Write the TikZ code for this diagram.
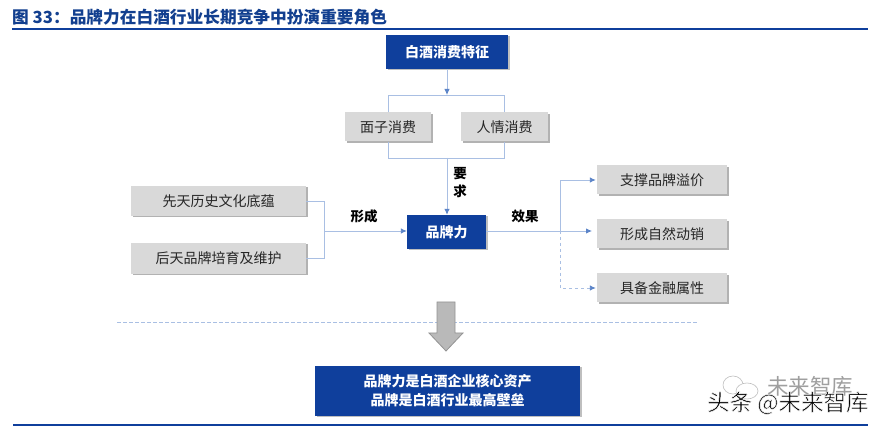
\documentclass[tikz,border=0pt]{standalone}
\usepackage{fontspec}
\setmainfont{Noto Sans CJK SC}
\definecolor{navy}{HTML}{0F3F9C}
\definecolor{lineblue}{HTML}{A9BFE3}
\definecolor{arrowblue}{HTML}{5B84C8}
\definecolor{boxgray}{HTML}{D9D9D9}
\definecolor{titleblue}{HTML}{123F8F}
\definecolor{txt}{HTML}{262626}
\usetikzlibrary{shadows,arrows.meta}
\tikzset{
 bluebox/.style={draw=none,fill=navy,text=white,font=\fontsize{14}{16}\selectfont\bfseries,anchor=center,inner sep=0pt,
   drop shadow={shadow xshift=1.5pt,shadow yshift=-1.5pt,fill=black,opacity=.25}},
 graybox/.style={draw=none,fill=boxgray,text=txt,font=\fontsize{14}{16}\selectfont,inner sep=0pt,
   drop shadow={shadow xshift=1.5pt,shadow yshift=-1.5pt,fill=black,opacity=.3}},
 lnk/.style={draw=lineblue,line width=.9pt},
 arr/.style={lnk,-{Latex[length=6pt,width=5.5pt,color=arrowblue]}},
 lab/.style={font=\fontsize{13.5}{15}\selectfont\bfseries,text=black,inner sep=0pt},
}
\begin{document}
\begin{tikzpicture}[x=1pt,y=-1pt]
\useasboundingbox (0,0) rectangle (881,427);
\fill[white] (0,0) rectangle (881,427);
% title
\node[anchor=west,inner sep=0pt,text=titleblue,font=\fontsize{16.7}{18}\selectfont\bfseries] (title) at (12,17) {图 33：品牌力在白酒行业长期竞争中扮演重要角色};
\coordinate (tl) at (12,29); \coordinate (tr) at (868,29);
\draw[navy,line width=1.6pt] (tl) -- (tr);
\coordinate (bl) at (13,425); \coordinate (br) at (868,425);
\draw[navy,line width=1.4pt] (bl) -- (br);
% boxes
\node[bluebox,minimum width=122pt,minimum height=34pt] (top) at (447,52) {白酒消费特征};
\node[graybox,minimum width=86pt,minimum height=29pt] (mz) at (388,127) {面子消费};
\node[graybox,minimum width=87pt,minimum height=29pt] (rq) at (504.5,127) {人情消费};
\node[bluebox,minimum width=79pt,minimum height=34pt] (pp) at (446.5,232) {品牌力};
\node[graybox,minimum width=175pt,minimum height=30pt] (l1) at (218.5,201) {先天历史文化底蕴};
\node[graybox,minimum width=175pt,minimum height=31pt] (l2) at (218.5,258.5) {后天品牌培育及维护};
\node[graybox,minimum width=130pt,minimum height=29pt] (r1) at (662,180) {支撑品牌溢价};
\node[graybox,minimum width=130pt,minimum height=29pt] (r2) at (662,234) {形成自然动销};
\node[graybox,minimum width=130pt,minimum height=29pt] (r3) at (662,288) {具备金融属性};
\node[bluebox,minimum width=265pt,minimum height=50pt,align=center,font=\fontsize{14}{19}\selectfont\bfseries] (core) at (447.5,391) {品牌力是白酒企业核心资产\\品牌是白酒行业最高壁垒};
% connectors
\coordinate (upT) at (447,95); \coordinate (dnT) at (447,158);
\draw[arr] (top) -- (upT);
\draw[lnk] (mz.north) -- (mz.north |- upT) -- (rq.north |- upT) -- (rq.north);
\draw[lnk] (mz.south) -- (mz.south |- dnT) -- (rq.south |- dnT) -- (rq.south);
\draw[arr] (dnT) -- (dnT |- pp.north);
\coordinate (lj) at (324,231);
\draw[lnk] (l1.east) -- (l1.east -| lj) -- (l2.east -| lj) -- (l2.east);
\draw[arr] (lj) -- (pp.west |- lj);
\coordinate (rb) at (560,231);
\coordinate (re) at (592,231);
\draw[arr] (pp.east |- rb) -- (re);
\draw[arr] (rb) -- (rb |- r1.west) -- ([xshift=-1pt]r1.west);
\draw[arr,dashed] (rb) -- (rb |- r3.west) -- ([xshift=-1pt]r3.west);
% labels
\node[lab] (xc) at (364,216) {形成};
\node[lab] (xg) at (525,216) {效果};
\node[lab] (yq1) at (460,173.5) {要};
\node[lab] (yq2) at (460,191) {求};
% dashed separator
\coordinate (sl) at (117,322); \coordinate (sr) at (697,322);
\draw[draw=lineblue,line width=.8pt,dash pattern=on 4pt off 2pt] (sl) -- (sr);
% big arrow
\draw[draw=gray!85,fill=gray!55,line width=.8pt] (437,302) -- (455,302) -- (455,333) -- (463,333) -- (446,351) -- (429,333) -- (437,333) -- cycle;
% watermark
\draw[gray!50,line width=.6pt,fill=white] (733,385) ellipse (10pt and 9pt);
\draw[gray!50,line width=.6pt,fill=white] (747,391) ellipse (11pt and 8pt);
\node[anchor=west,inner sep=0pt,text=gray!75,font=\fontsize{21.5}{23}\selectfont] (wm1) at (767,386) {未来智库};
\node[anchor=west,inner sep=0pt,text=black,font=\fontsize{22.5}{24}\selectfont] (wm2) at (707,403) {\special{pdf:code 2 Tr 0.5 w 1 1 1 RG}头条 @未来智库\special{pdf:code 0 Tr 0 G}};
\end{tikzpicture}
\end{document}
